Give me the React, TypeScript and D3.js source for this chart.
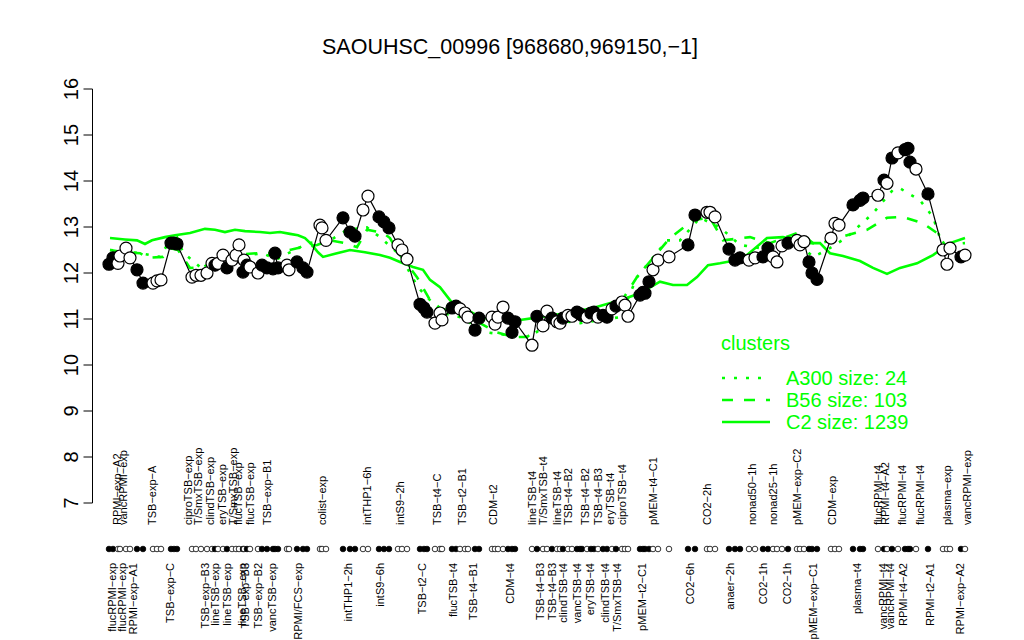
import React from "react";
import * as d3 from "d3";

// sample positions along the x axis (sample index units) and log2 expression values
const samplePos = [
  -0.2, 0.6, 1.6, 2.0, 3.2, 4.0, 5.4, 6.6,
  8.6, 9.4, 10.2,
  12.2, 12.8, 13.4,
  16.4, 17.2, 18.2,
  19.4, 20.4, 21.0, 21.6, 22.6, 23.4, 24.4, 25.2, 25.8, 26.6, 26.8, 27.4, 28.0, 29.6, 30.4, 31.4, 32.6, 33.0, 33.6, 35.4, 35.8, 37.4, 38.6, 39.4,
  42.0, 42.4, 43.2,
  46.6, 48.0, 49.0,
  50.6, 51.6,
  53.8, 54.8, 55.8,
  57.6, 58.4, 59.4,
  62.0, 62.8, 63.4,
  65.0, 66.0, 66.4,
  68.4, 69.2,
  70.0, 71.0, 71.6,
  73.0, 73.8,
  76.4, 77.0, 77.6, 78.6,
  79.6, 80.4, 81.0,
  84.4, 85.4, 86.6, 87.4, 88.4, 89.4, 90.0, 90.6, 91.6, 92.4, 93.4, 94.0, 94.4, 95.4, 96.2, 96.8, 97.6, 98.6, 99.4, 100.4, 101.2, 102.4, 103.0, 103.6,
  106.0, 106.6, 107.0, 107.8,
  108.6, 109.6, 111.8,
  115.6, 117.0,
  119.4, 120.0, 121.0,
  123.8, 125.0, 126.0,
  127.8, 129.0,
  130.6, 131.6, 132.6, 133.4, 134.4, 135.6,
  137.4, 138.0, 138.8,
  139.8, 140.4, 141.4,
  144.2, 145.0, 145.8,
  148.6, 150.0, 150.6,
  153.6, 154.8, 155.4, 156.4, 157.6, 159.0, 159.6, 160.0, 161.2,
  163.6,
  166.6, 167.4, 168.0,
  170.2, 171.0,
];

const sampleVal = [
  12.19, 12.33, 12.21, 12.37, 12.54, 12.33, 12.07, 11.78,
  11.78, 11.83, 11.85,
  12.65, 12.65, 12.63,
  11.91, 11.95, 11.95,
  12.0, 12.21, 12.17, 12.21, 12.39, 12.11, 12.28, 12.39, 12.61, 12.02, 12.28, 12.17, 12.13, 12.0, 12.17, 12.11, 12.09, 12.43, 12.11, 12.17, 12.07, 12.24, 12.11, 12.02,
  13.04, 12.98, 12.71,
  13.2, 12.89, 12.8,
  13.37, 13.67,
  13.22, 13.11, 12.98,
  12.61, 12.5, 12.3,
  11.32, 11.24, 11.15,
  10.91, 11.13, 10.98,
  11.24, 11.28,
  11.22, 11.13, 11.04,
  10.76, 11.02,
  11.04, 10.89, 11.04, 11.26,
  11.02, 10.71, 10.94,
  10.43, 11.06, 10.85, 11.17, 11.02, 10.94, 10.91, 11.02, 11.08, 11.06, 11.15, 11.11, 11.08, 11.04, 11.13, 11.15, 11.04, 11.08, 11.04, 11.22, 11.28, 11.37, 11.3, 11.06,
  11.52, 11.58, 11.56, 11.81,
  12.07, 12.28, 12.35,
  12.61, 13.26,
  13.32, 13.32, 13.22,
  12.52, 12.28, 12.33,
  12.28, 12.33,
  12.35, 12.54, 12.35, 12.24, 12.59, 12.65,
  12.71, 12.61, 12.68,
  12.24, 12.0, 11.86,
  12.76, 13.08, 13.04,
  13.48, 13.58, 13.63,
  13.69, 14.02, 13.95, 14.5, 14.61, 14.68, 14.71, 14.41, 14.26,
  13.72,
  12.5, 12.19, 12.54,
  12.35, 12.39,
];

// 1 = filled marker, 0 = open marker
const sampleFill = [
  1, 1, 0, 0, 0, 0, 1, 1,
  0, 0, 0,
  1, 1, 1,
  0, 0, 0,
  0, 0, 1, 0, 0, 1, 0, 0, 0, 1, 0, 1, 0, 0, 1, 1, 1, 1, 1, 0, 0, 1, 1, 1,
  0, 0, 0,
  1, 1, 1,
  0, 0,
  1, 1, 1,
  0, 0, 0,
  1, 1, 1,
  0, 0, 0,
  1, 1,
  0, 0, 0,
  1, 1,
  0, 0, 0, 0,
  1, 1, 1,
  0, 1, 0, 0, 1, 0, 0, 1, 0, 0, 1, 1, 1, 0, 1, 1, 0, 1, 1, 0, 1, 0, 0, 0,
  1, 1, 1, 1,
  0, 0, 0,
  1, 1,
  0, 0, 0,
  1, 1, 1,
  0, 0,
  1, 1, 0, 0, 0, 1,
  0, 0, 0,
  1, 1, 1,
  0, 0, 0,
  1, 1, 1,
  0, 1, 0, 1, 0, 1, 1, 1, 0,
  1,
  0, 0, 0,
  1, 0,
];

// cluster profiles
const c2Pos = [0, 3, 5.4, 7, 8.4, 11, 13, 16, 19, 21, 23, 25, 27, 30, 32, 34, 36, 37.6, 39, 40.4, 41.6, 42.6, 45, 48, 51, 54, 56, 58, 60.6, 62.6, 64, 66, 68, 69.4, 71.4, 74, 77.4, 82, 86, 91.4, 96.6, 102, 106, 110, 112.6, 115.4, 117.4, 119.6, 122, 124.4, 127.4, 131.4, 134.6, 139.4, 142, 144, 146.6, 150, 152.6, 155.4, 158, 161.4, 164.6, 168, 171];
const c2Val = [12.76, 12.73, 12.71, 12.63, 12.71, 12.78, 12.82, 12.87, 12.96, 12.94, 12.89, 12.94, 12.91, 12.89, 12.87, 12.89, 12.85, 12.82, 12.76, 12.61, 12.45, 12.35, 12.42, 12.5, 12.45, 12.39, 12.33, 12.24, 12.13, 12.07, 11.85, 11.69, 11.41, 11.26, 11.2, 11.04, 10.98, 10.98, 11.04, 11.13, 11.24, 11.41, 11.56, 11.81, 11.74, 11.74, 11.91, 12.17, 12.21, 12.26, 12.39, 12.76, 12.78, 12.65, 12.65, 12.43, 12.37, 12.26, 12.11, 11.98, 12.11, 12.21, 12.39, 12.65, 12.76];

const b56Pos = [0, 3, 6, 7.6, 10.6, 12, 13.6, 16, 18.6, 21.4, 24.6, 29.4, 33.4, 37.4, 41.4, 44, 47, 49.4, 51.4, 54.6, 56, 57.6, 61.4, 64, 66, 69.4, 74, 77.4, 80.6, 83.4, 86, 90, 94, 98, 102, 105.4, 109.4, 112, 116.6, 120, 122.6, 128, 132, 138, 141, 147.4, 151.4, 155.4, 158.6, 162.6, 165.4, 167, 171];
const b56Val = [12.5, 12.45, 12.43, 12.33, 12.35, 12.54, 12.5, 12.11, 12.13, 12.28, 12.39, 12.43, 12.43, 12.54, 12.61, 12.71, 12.65, 12.56, 12.94, 12.87, 12.76, 12.45, 11.91, 11.41, 11.24, 11.13, 10.91, 10.71, 10.61, 10.61, 10.82, 10.94, 10.98, 11.04, 11.34, 11.91, 12.43, 12.76, 13.15, 13.2, 12.71, 12.78, 12.65, 12.89, 12.61, 12.82, 12.94, 13.2, 13.22, 13.08, 12.87, 12.61, 12.65];

const a300Pos = [0, 6, 10, 13, 14.6, 18, 24, 30.4, 33.4, 36, 39.6, 44, 47.4, 51.4, 54, 58, 61.6, 64, 66.4, 70, 75.4, 79.4, 84, 88.6, 94, 102, 105.4, 111.4, 114, 118, 122, 126, 130, 136.6, 140.6, 143.4, 147.4, 152.6, 156.6, 158, 162, 164.6, 166.6, 170];
const a300Val = [12.5, 12.43, 12.35, 12.89, 12.45, 12.13, 12.33, 12.43, 12.3, 12.45, 12.65, 12.71, 12.94, 12.99, 12.78, 12.39, 11.69, 11.41, 11.13, 11.04, 10.71, 10.65, 10.61, 10.98, 10.91, 11.04, 11.91, 12.71, 12.71, 13.2, 12.99, 12.61, 12.54, 12.76, 12.35, 12.5, 12.78, 13.3, 13.81, 13.84, 13.58, 13.22, 12.56, 12.54];

const lowerLabels = ["flucRPMI-exp", "flucRPMI-exp", "RPMI-exp-A1", "TSB-exp-C", "TSB-exp-B3", "lineTSB-exp", "lineTSB-exp", "lineTSB-exp", "TSB-exp-B3", "TSB-exp-B2", "vancTSB-exp", "RPMI/FCS-exp", "intTHP1-2h", "intS9-6h", "TSB-t2-C", "flucTSB-t4", "TSB-t4-B1", "CDM-t4", "TSB-t4-B3", "TSB-t4-B3", "clindTSB-t4", "vancTSB-t4", "eryTSB-t4", "clindTSB-t4", "T/SmxTSB-t4", "pMEM-t2-C1", "CO2-6h", "anaer-2h", "CO2-1h", "CO2-1h", "pMEM-exp-C1", "plasma-t4", "vancRPMI-t4", "vancRPMI-t4", "RPMI-t4-A2", "RPMI-t2-A1", "RPMI-exp-A2"];
const lowerLabelPos = [0.4, 2.4, 4.6, 12, 19, 21, 23.4, 26.4, 27, 29.6, 32.4, 37.6, 47.6, 54, 62.4, 68.6, 72.6, 80, 86, 88.4, 90.6, 93.4, 96, 99, 101.4, 106.4, 116, 124, 130.6, 135.4, 140.6, 149.4, 154.6, 156, 158.6, 164, 170];

const upperLabels = ["RPMI-exp-A2", "vancRPMI-exp", "TSB-exp-A", "ciproTSB-exp", "T/SmxTSB-exp", "clindTSB-exp", "eryTSB-exp", "T/SmxTSB-exp", "flucTSB-exp", "flucTSB-exp", "TSB-exp-B1", "colist-exp", "intTHP1-6h", "intS9-2h", "TSB-t4-C", "TSB-t2-B1", "CDM-t2", "lineTSB-t4", "T/SmxTSB-t4", "lineTSB-t4", "TSB-t4-B2", "TSB-t4-B2", "TSB-t4-B3", "eryTSB-t4", "ciproTSB-t4", "pMEM-t4-C1", "CO2-2h", "nonad50-1h", "nonad25-1h", "pMEM-exp-C2", "CDM-exp", "flucRPMI-t4", "RPMI-t4-A2", "flucRPMI-t4", "flucRPMI-t4", "plasma-exp", "vancRPMI-exp"];
const upperLabelPos = [1.4, 2.6, 8.4, 15.6, 17.6, 20, 22.4, 24.6, 25.6, 28, 31.4, 42.4, 51.4, 58, 65.4, 70.4, 76.6, 84.4, 86.6, 89.4, 91.6, 95, 97.6, 100, 102.4, 108.6, 119.4, 128.4, 132.6, 137.4, 144.4, 153.6, 155, 158.4, 162, 167.4, 171.4];

const yTicks = [7, 8, 9, 10, 11, 12, 13, 14, 15, 16];

const legendNames = ["A300 size: 24", "B56 size: 103", "C2 size: 1239"];
const legendDash = ["3,9", "11,11", null];

const GREEN = "#00FF00";
const FONT = "'Liberation Sans', Arial, Helvetica, sans-serif";
const fmt = (s: string) => s.replace(/-/g, "\u2212");

export default function App() {
  const x = d3.scaleLinear().domain([0, 171]).range([110, 965]);
  const y = d3.scaleLinear().domain([7, 16]).range([503, 89]);
  const line = d3
    .line<[number, number]>()
    .x((d) => x(d[0]))
    .y((d) => y(d[1]));

  const toPts = (p: number[], v: number[]) =>
    p.map((d, i) => [d, v[i]] as [number, number]);

  const dotRowY = 549;
  const axisX = 92.5;

  return (
    <svg
      width={1024}
      height={640}
      style={{ position: "absolute", left: 0, top: 0, background: "#fff" }}
      fontFamily={FONT}
    >
      <rect width={1024} height={640} fill="#fff" />
      <text x={510} y={54} textAnchor="middle" fontSize={21.5}>
        SAOUHSC_00996 [968680,969150,{"\u2212"}1]
      </text>

      {/* y axis */}
      <line x1={axisX} x2={axisX} y1={y(7)} y2={y(16)} stroke="#000" strokeWidth={1} />
      {yTicks.map((t) => (
        <g key={t}>
          <line x1={axisX - 9} x2={axisX} y1={y(t)} y2={y(t)} stroke="#000" />
          <text
            transform={`translate(${78},${y(t)}) rotate(-90)`}
            textAnchor="middle"
            fontSize={20}
          >
            {t}
          </text>
        </g>
      ))}

      {/* cluster profiles */}
      <path d={line(toPts(c2Pos, c2Val)) || ""} fill="none" stroke={GREEN} strokeWidth={2.6} />
      <path d={line(toPts(b56Pos, b56Val)) || ""} fill="none" stroke={GREEN} strokeWidth={2.6} strokeDasharray="11,11" />
      <path d={line(toPts(a300Pos, a300Val)) || ""} fill="none" stroke={GREEN} strokeWidth={2.6} strokeDasharray="3,9" />

      {/* gene profile */}
      <path d={line(toPts(samplePos, sampleVal)) || ""} fill="none" stroke="#000" strokeWidth={1.2} />
      {samplePos.map((p, i) => (
        <circle
          key={"p" + i}
          cx={x(p)}
          cy={y(sampleVal[i])}
          r={6}
          fill={sampleFill[i] ? "#000" : "#fff"}
          stroke="#000"
          strokeWidth={1.2}
        />
      ))}

      {/* sample marker row */}
      {samplePos.map((p, i) => (
        <circle
          key={"d" + i}
          cx={x(p)}
          cy={dotRowY}
          r={2.8}
          fill={sampleFill[i] ? "#000" : "#fff"}
          stroke="#000"
          strokeWidth={0.8}
        />
      ))}

      {/* sample labels */}
      {upperLabels.map((l, i) => (
        <text
          key={"u" + i}
          transform={`translate(${x(upperLabelPos[i]) + 4},525) rotate(-90)`}
          textAnchor="start"
          fontSize={11}
        >
          {fmt(l)}
        </text>
      ))}
      {lowerLabels.map((l, i) => (
        <text
          key={"l" + i}
          transform={`translate(${x(lowerLabelPos[i]) + 4},563) rotate(-90)`}
          textAnchor="end"
          fontSize={11}
        >
          {fmt(l)}
        </text>
      ))}

      {/* legend */}
      <text x={721} y={350} fontSize={20} fill={GREEN}>
        clusters
      </text>
      {legendNames.map((n, i) => (
        <g key={n}>
          <line
            x1={722}
            x2={770}
            y1={378 + i * 22}
            y2={378 + i * 22}
            stroke={GREEN}
            strokeWidth={2.6}
            strokeDasharray={legendDash[i] || undefined}
          />
          <text x={786} y={385 + i * 22} fontSize={20} fill={GREEN}>
            {n}
          </text>
        </g>
      ))}
    </svg>
  );
}
